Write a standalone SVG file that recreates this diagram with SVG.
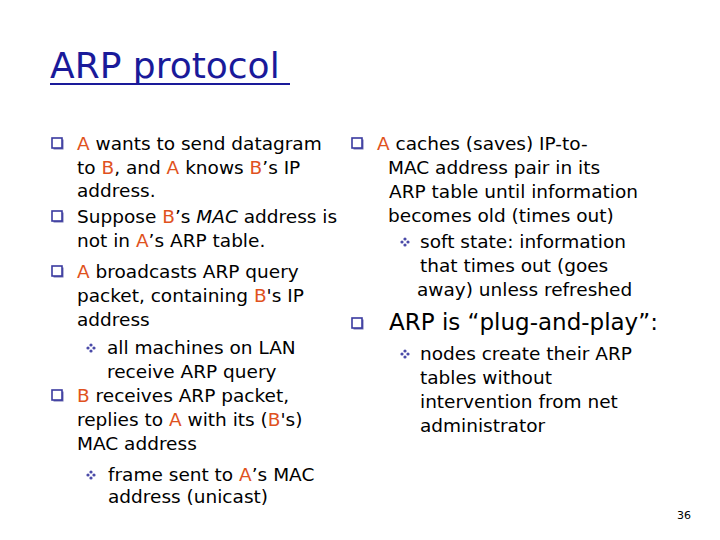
<svg xmlns="http://www.w3.org/2000/svg" width="720" height="540" viewBox="0 0 720 540">
<style>
text{font-family:"DejaVu Sans","Liberation Sans",sans-serif;font-size:18.5px;fill:#000}
.r{fill:#e0521e}
.t{font-size:36px;fill:#1a1a9a}
.big{font-size:23px}
.pn{font-size:11px}
</style>
<defs>
<g id="sq"><rect x="1.5" y="-10.5" width="10" height="10" fill="#7070b0"/><rect x="0" y="-12" width="10" height="10" fill="#fff" stroke="#3a3aa0" stroke-width="1.6"/></g>
<g id="dm" fill="#4a4aa8"><circle cx="0" cy="-9" r="1.6"/><circle cx="0" cy="-3" r="1.6"/><circle cx="-3" cy="-6" r="1.6"/><circle cx="3" cy="-6" r="1.6"/></g>
</defs>
<rect width="720" height="540" fill="#fff"/>
<text class="t" x="50" y="78">ARP protocol</text>
<line x1="50" y1="84" x2="290" y2="84" stroke="#1a1a9a" stroke-width="2"/>
<g id="left">
<use href="#sq" x="52" y="150"/>
<text x="77" y="150"><tspan class="r">A</tspan> wants to send datagram</text>
<text x="77" y="174">to <tspan class="r">B</tspan>, and <tspan class="r">A</tspan> knows <tspan class="r">B</tspan>’s IP</text>
<text x="77" y="197">address.</text>
<use href="#sq" x="52" y="223"/>
<text x="77" y="223">Suppose <tspan class="r">B</tspan>’s <tspan font-style="italic">MAC</tspan> address is</text>
<text x="77" y="247">not in <tspan class="r">A</tspan>’s ARP table.</text>
<use href="#sq" x="52" y="278"/>
<text x="77" y="278"><tspan class="r">A</tspan> broadcasts ARP query</text>
<text x="77" y="302">packet, containing <tspan class="r">B</tspan>'s IP</text>
<text x="77" y="326">address</text>
<use href="#dm" x="91" y="354"/>
<text x="107" y="354">all machines on LAN</text>
<text x="107" y="378">receive ARP query</text>
<use href="#sq" x="52" y="402"/>
<text x="77" y="402"><tspan class="r">B</tspan> receives ARP packet,</text>
<text x="77" y="426">replies to <tspan class="r">A</tspan> with its (<tspan class="r">B</tspan>'s)</text>
<text x="77" y="450">MAC address</text>
<use href="#dm" x="91" y="481"/>
<text x="108" y="481" font-size="16.5">frame sent to <tspan class="r">A</tspan>’s MAC</text>
<text x="108" y="503" font-size="16.5">address (unicast)</text>
</g>
<g id="right">
<use href="#sq" x="352" y="150"/>
<text x="377" y="150"><tspan class="r">A</tspan> caches (saves) IP-to-</text>
<text x="388" y="174">MAC address pair in its</text>
<text x="389" y="198">ARP table until information</text>
<text x="388" y="222">becomes old (times out)</text>
<use href="#dm" x="405" y="248"/>
<text x="420" y="248">soft state: information</text>
<text x="420" y="272">that times out (goes</text>
<text x="417" y="296">away) unless refreshed</text>
<use href="#sq" x="352" y="330"/>
<text class="big" x="389" y="330">ARP is “plug-and-play”:</text>
<use href="#dm" x="405" y="360"/>
<text x="420" y="360">nodes create their ARP</text>
<text x="420" y="384">tables without</text>
<text x="420" y="408">intervention from net</text>
<text x="420" y="432">administrator</text>
</g>
<text class="pn" x="677" y="519">36</text>
</svg>
